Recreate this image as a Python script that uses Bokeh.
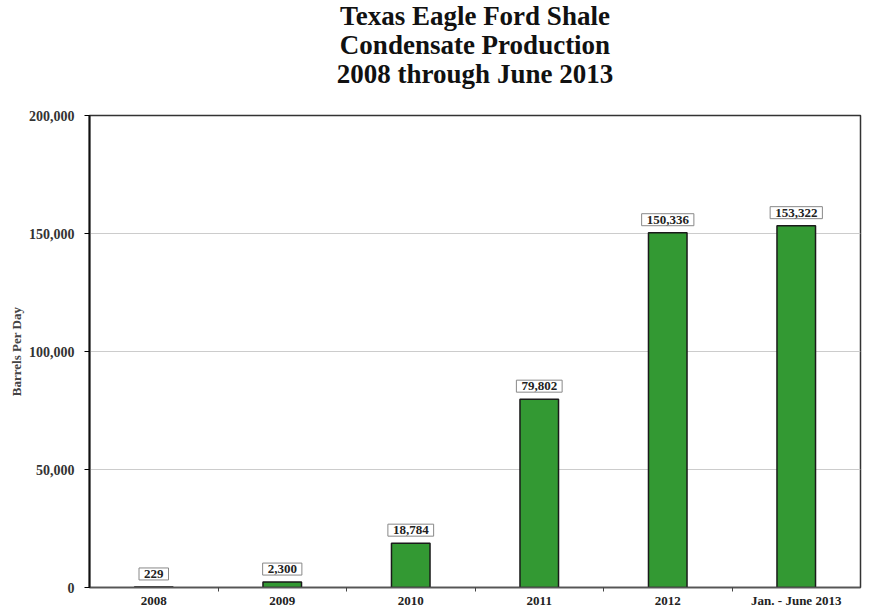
from bokeh.plotting import figure
from bokeh.models import ColumnDataSource, Title, FixedTicker, NumeralTickFormatter, Range1d
from bokeh.core.properties import value
from bokeh.embed import file_html
from bokeh.resources import INLINE

categories = ["2008", "2009", "2010", "2011", "2012", "Jan. - June 2013"]
values = [229, 2300, 18784, 79802, 150336, 153322]
value_labels = ["229", "2,300", "18,784", "79,802", "150,336", "153,322"]
y_ticks = [0, 50000, 100000, 150000, 200000]

FONT = "Liberation Serif"

xs = [i + 0.5 for i in range(len(categories))]
src = ColumnDataSource(dict(x=xs, top=values, lab=value_labels))

p = figure(width=872, height=610, output_backend="svg", toolbar_location=None,
           x_range=Range1d(0, len(categories)), y_range=Range1d(0, 200000),
           min_border_left=89, min_border_right=12, min_border_bottom=0,
           min_border_top=0)

# spacer between title block and plot frame
p.add_layout(Title(text=" ", text_font=FONT, text_font_size="24px", standoff=0), "above")
titles = ["2008 through June 2013", "Condensate Production", "Texas Eagle Ford Shale"]
for t in titles:
    p.add_layout(Title(text=t, align="center", text_font=FONT, text_font_size="27px",
                       text_font_style="bold", text_color="#111111", standoff=-3), "above")

p.vbar(x="x", top="top", width=0.30, source=src, fill_color="#339933",
       line_color="#1a1a1a", line_width=1.5)

p.text(x="x", y="top", text="lab", source=src, y_offset=-7,
       text_align="center", text_baseline="bottom",
       text_font=value(FONT), text_font_size="13px", text_font_style="bold",
       text_color="#222222", padding=dict(left=5, right=5, top=2, bottom=2),
       background_fill_color="white", border_line_color="#888888",
       border_line_width=1)

# x axis
p.xaxis.ticker = FixedTicker(ticks=xs, minor_ticks=list(range(1, len(categories))))
p.xaxis.major_label_overrides = {x: c for x, c in zip(xs, categories)}
p.xaxis.major_tick_line_color = None
p.xaxis.major_tick_out = 0
p.xaxis.major_tick_in = 0
p.xaxis.minor_tick_out = 4
p.xaxis.minor_tick_in = 0
p.xaxis.minor_tick_line_color = "#444444"
p.xaxis.axis_line_color = "#555555"
p.xaxis.axis_line_width = 1.5
p.xaxis.major_label_text_font = FONT
p.xaxis.major_label_text_font_style = "bold"
p.xaxis.major_label_text_font_size = "13px"
p.xaxis.major_label_text_color = "#222222"
p.xaxis.major_label_standoff = 1

# y axis
p.yaxis.ticker = FixedTicker(ticks=y_ticks)
p.yaxis.formatter = NumeralTickFormatter(format="0,0")
p.yaxis.axis_line_color = "#111111"
p.yaxis.axis_line_width = 2
p.yaxis.major_tick_out = 5
p.yaxis.major_tick_in = 0
p.yaxis.minor_tick_line_color = None
p.yaxis.major_label_text_font = FONT
p.yaxis.major_label_text_font_style = "bold"
p.yaxis.major_label_text_font_size = "14px"
p.yaxis.major_label_text_color = "#333333"
p.yaxis.major_label_standoff = 10
p.yaxis.axis_label = "Barrels Per Day"
p.yaxis.axis_label_text_font = FONT
p.yaxis.axis_label_text_font_style = "bold"
p.yaxis.axis_label_text_font_size = "13px"
p.yaxis.axis_label_standoff = 2

p.xgrid.grid_line_color = None
p.ygrid.ticker = FixedTicker(ticks=y_ticks)
p.ygrid.grid_line_color = "#cccccc"
p.ygrid.grid_line_width = 1

p.outline_line_color = "#333333"
p.outline_line_width = 1.5
p.background_fill_color = "white"

open("out.html", "w").write(file_html(p, INLINE))
